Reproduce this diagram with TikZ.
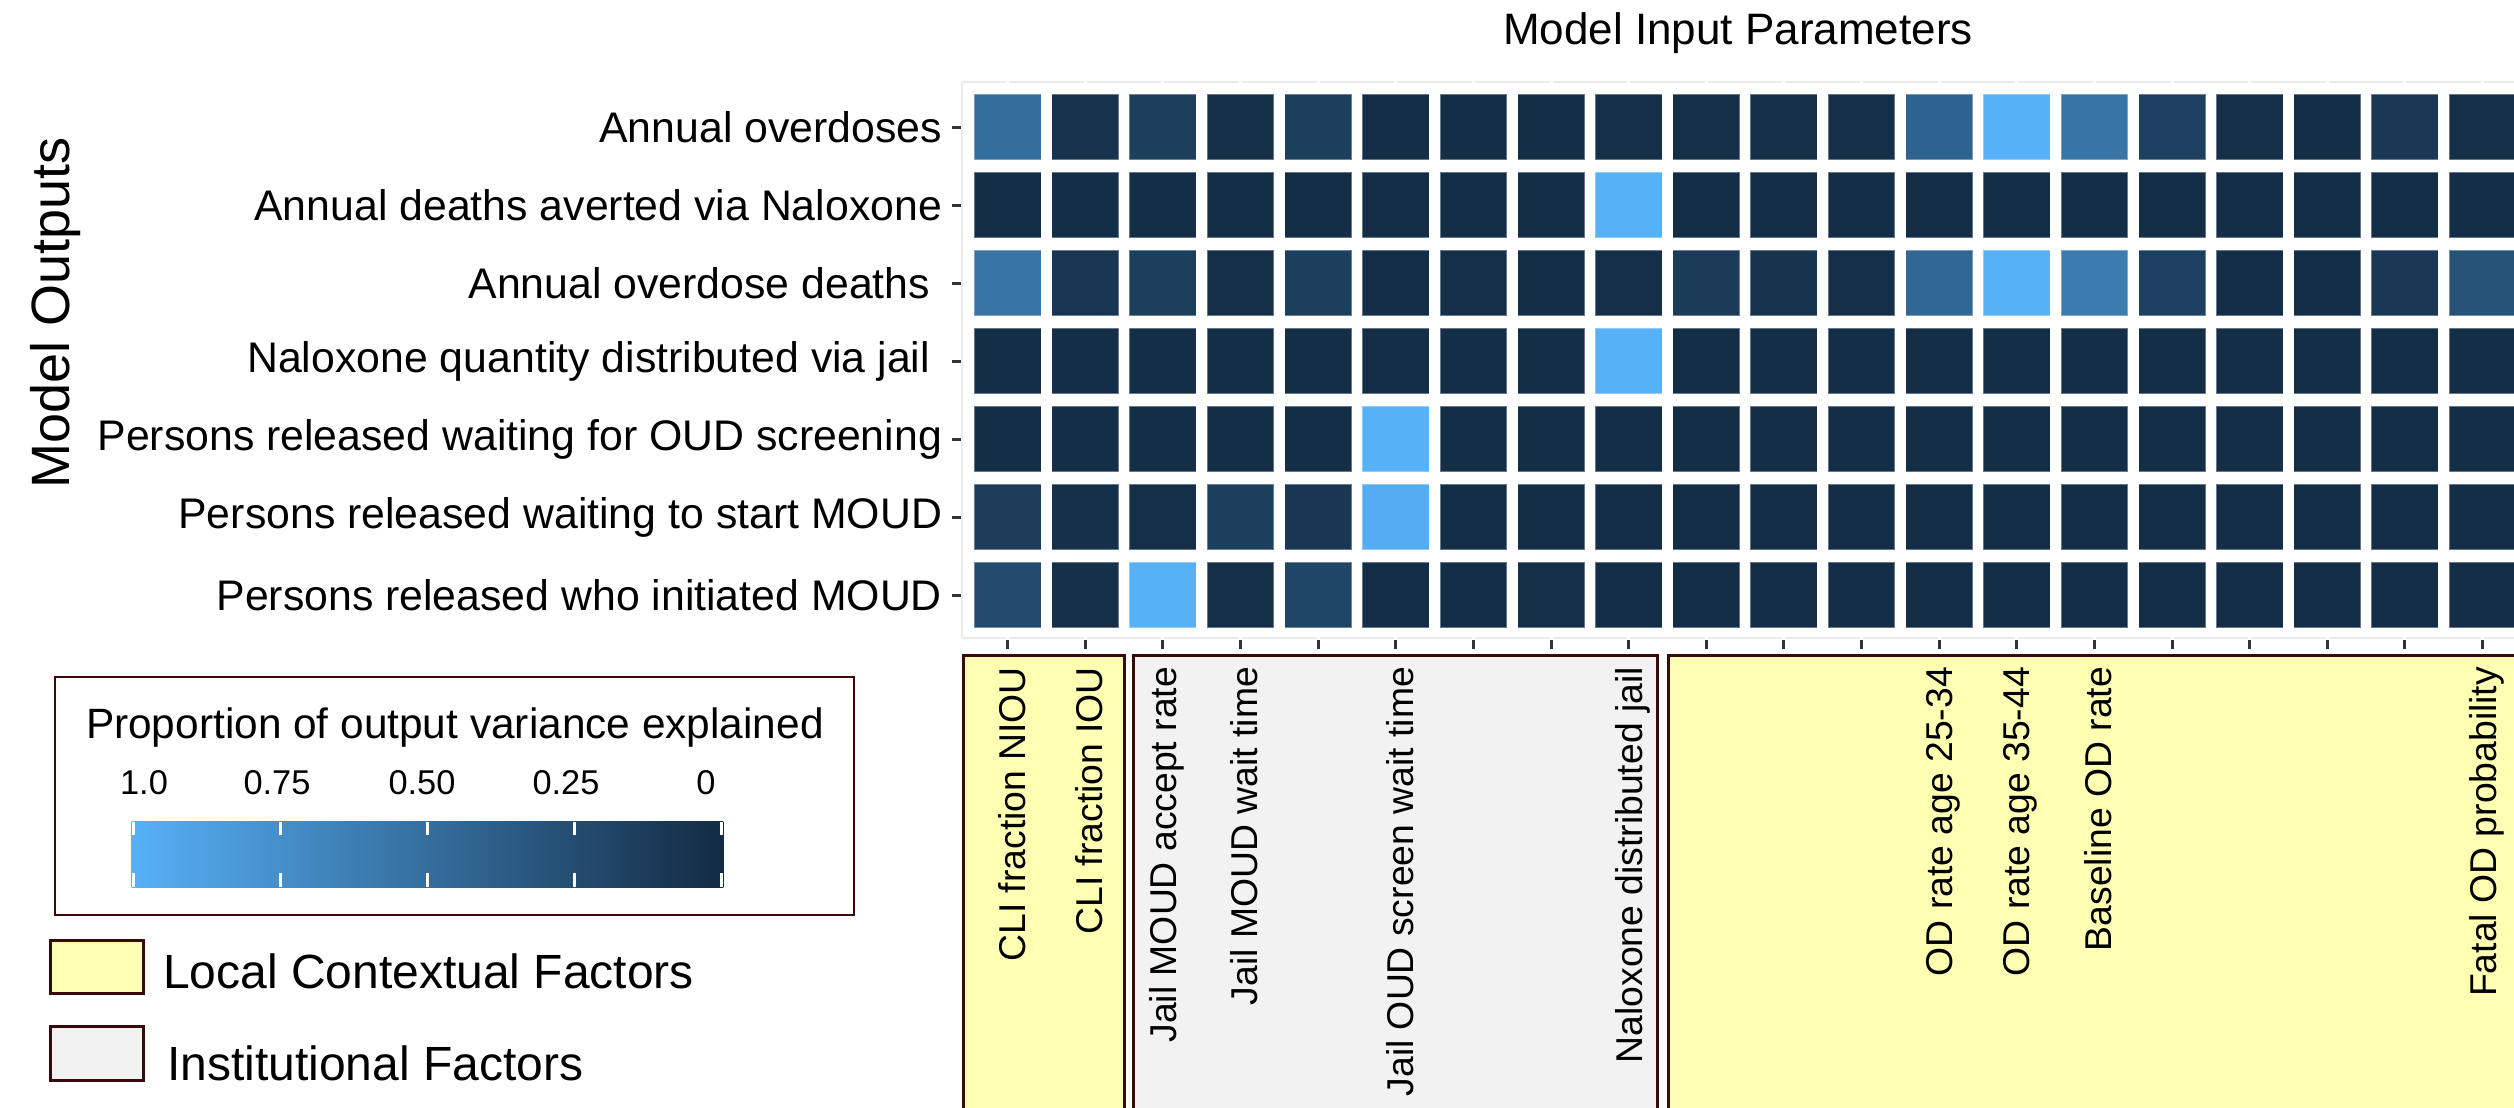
\documentclass[tikz,border=0pt]{standalone}
\usepackage{fontspec}
\setmainfont{Liberation Sans}
\definecolor{lowc}{HTML}{132B43}
\definecolor{highc}{HTML}{56B1F7}
\definecolor{gridgrey}{HTML}{EBEBEB}
\definecolor{tickgrey}{HTML}{333333}
\definecolor{maroon}{HTML}{3A0A0A}
\definecolor{localfill}{HTML}{FFFFB3}
\definecolor{instfill}{HTML}{F2F2F2}
\newcommand{\trailsp}{\hphantom{\ }}
\begin{document}
\begin{tikzpicture}[x=0.25pt,y=-0.25pt,
  every node/.style={inner sep=0pt,outer sep=0pt},
  cellbox/.style={minimum width=16.75pt,minimum height=16.5pt,draw=white,draw opacity=0.35,line width=0.3pt},
  rowlab/.style={font=\fontsize{10.7}{12}\selectfont,anchor=east},
  collab/.style={font=\fontsize{9.33}{11}\selectfont,rotate=90,anchor=east},
  xtitlestyle/.style={font=\fontsize{11}{13}\selectfont},
  ytitlestyle/.style={font=\fontsize{13.5}{15}\selectfont,rotate=90},
  tickline/.style={draw=tickgrey,line width=0.75pt},
  groupbox/.style={draw=maroon,line width=0.75pt},
  legtitle/.style={font=\fontsize{10.6}{12}\selectfont,anchor=base west},
  leglab/.style={font=\fontsize{8.6}{10}\selectfont,anchor=base},
  keylab/.style={font=\fontsize{12}{14}\selectfont,anchor=base west}]
\useasboundingbox (0,0) rectangle (2514,1107);
\clip (0,0) rectangle (2514,1107);

% panel frame with white grid lines over it
\draw[draw=gridgrey,line width=0.5pt] (962,82) rectangle (2560,638);
\foreach \c in {0,...,19}{
  \draw[white,line width=0.75pt] ({1007.7+77.62*\c},79) -- ({1007.7+77.62*\c},641);
}

% heat-map tiles (share of output variance, 0 = dark, 1 = light)
\foreach \rowvals [count=\r from 0] in {
  {0.50,0.05,0.15,0.03,0.15,0.02,0.02,0.02,0.03,0.03,0.03,0.03,0.42,1.00,0.55,0.16,0.03,0.02,0.10,0.03},
  {0.02,0.02,0.02,0.02,0.02,0.02,0.02,0.02,1.00,0.02,0.02,0.02,0.02,0.02,0.02,0.02,0.02,0.02,0.02,0.02},
  {0.55,0.08,0.15,0.03,0.15,0.02,0.03,0.02,0.03,0.12,0.06,0.03,0.45,1.00,0.60,0.16,0.02,0.02,0.10,0.30},
  {0.02,0.02,0.02,0.02,0.02,0.02,0.02,0.02,1.00,0.02,0.02,0.02,0.02,0.02,0.02,0.02,0.02,0.02,0.02,0.02},
  {0.02,0.02,0.02,0.02,0.02,1.00,0.02,0.02,0.02,0.02,0.02,0.02,0.02,0.02,0.02,0.02,0.02,0.02,0.02,0.02},
  {0.13,0.04,0.03,0.15,0.09,0.97,0.02,0.02,0.02,0.02,0.02,0.02,0.02,0.02,0.02,0.02,0.02,0.02,0.02,0.02},
  {0.24,0.04,1.00,0.03,0.20,0.02,0.02,0.03,0.02,0.02,0.02,0.02,0.02,0.02,0.02,0.02,0.02,0.02,0.02,0.02}}{
  \foreach \v [count=\c from 0] in \rowvals {
    \pgfmathtruncatemacro{\pct}{round(\v*100)}
    \colorlet{tilec}{highc!\pct!lowc}
    \node[cellbox,fill=tilec] (cell-\r-\c) at ({1007.7+77.62*\c},{127+78*\r}) {};
  }
}

% output (row) labels and ticks
\foreach \lab [count=\r from 0] in {Annual overdoses,Annual deaths averted via Naloxone,{Annual overdose deaths\trailsp},{Naloxone quantity distributed via jail\trailsp},Persons released waiting for OUD screening,Persons released waiting to start MOUD,Persons released who initiated MOUD}{
  \node[rowlab] (out-\r) at (942,{127+78*\r}) {\lab};
  \draw[tickline] (952,{127+78*\r}) -- (961,{127+78*\r});
}
\foreach \c in {0,...,19}{
  \draw[tickline] ({1007.7+77.62*\c},640) -- ({1007.7+77.62*\c},649);
}

% factor group boxes under the columns
\draw[groupbox,fill=localfill] (963,655) rectangle (1124,1130);
\draw[groupbox,fill=instfill] (1133,655) rectangle (1657,1130);
\draw[groupbox,fill=localfill] (1668,655) rectangle (2560,1130);

% input (column) labels
\foreach \c/\lab in {0/CLI fraction NIOU,1/CLI fraction IOU,2/Jail MOUD accept rate,3/Jail MOUD wait time,5/Jail OUD screen wait time,8/Naloxone distributed jail,12/OD rate age 25-34,13/OD rate age 35-44,14/Baseline OD rate,19/Fatal OD probability}{
  \node[collab] (in-\c) at ({1011.7+77.62*\c},667) {\lab};
}

% axis titles
\node[xtitlestyle] (xtitle) at (1738,33) {Model Input Parameters};
\node[ytitlestyle] (ytitle) at (56,313) {Model Outputs};

% colour-bar legend
\draw[draw=maroon,line width=0.6pt,fill=white] (55,677) rectangle (854,915);
\node[legtitle] (legtitle) at (86,738) {Proportion of output variance explained};
\shade[left color=highc,right color=lowc] (131.7,821.7) rectangle (723.3,887.3);
\foreach \tx in {133.5,280.5,427.5,574.5,721.5}{
  \draw[white,line width=0.9pt] (\tx,821.7) -- (\tx,835);
  \draw[white,line width=0.9pt] (\tx,873.3) -- (\tx,887.3);
}
\foreach \tx/\lab [count=\i] in {144/1.0,277/0.75,422/0.50,566/0.25,706/0}{
  \node[leglab] (tick-\i) at (\tx,794) {\lab};
}

% group key
\draw[groupbox,fill=localfill] (50,940) rectangle (143,993);
\node[keylab] (key-local) at (163,988) {Local Contextual Factors};
\draw[groupbox,fill=instfill] (50,1026) rectangle (143,1080);
\node[keylab] (key-inst) at (167,1080) {Institutional Factors};
\end{tikzpicture}
\end{document}
